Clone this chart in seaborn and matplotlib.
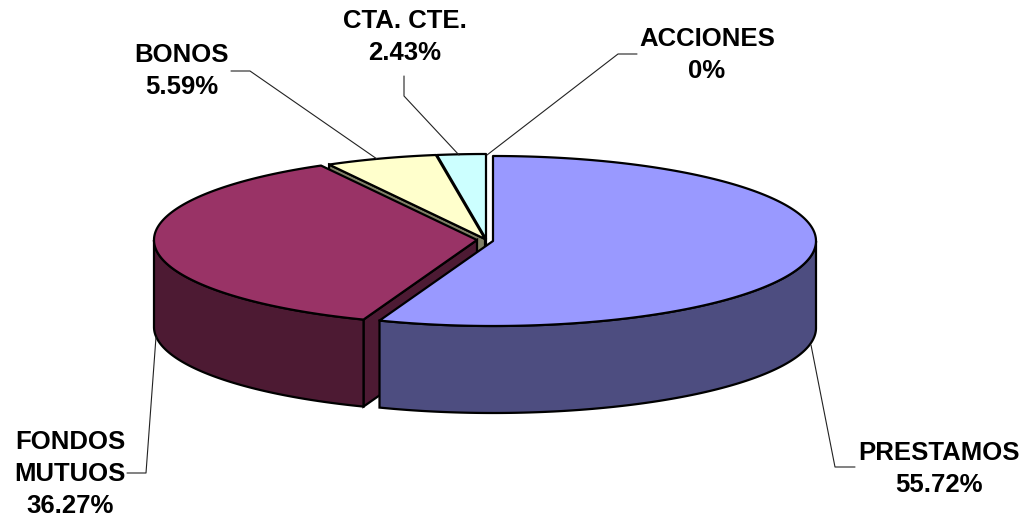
import numpy as np
import matplotlib
matplotlib.use("Agg")
import matplotlib.pyplot as plt
from matplotlib.patches import Polygon
import seaborn as sns

categories = ["PRESTAMOS", "FONDOS\nMUTUOS", "BONOS", "CTA. CTE.", "ACCIONES"]
values = [55.72, 36.27, 5.59, 2.43, 0.0]
value_labels = ["55.72%", "36.27%", "5.59%", "2.43%", "0%"]
top_colors = ["#9999FF", "#993366", "#FFFFCC", "#CCFFFF", "#660066"]
side_colors = ["#4D4D80", "#4D1A33", "#808066", "#668080", "#330033"]

sns.set_theme(style="white")
plt.rcParams["font.family"] = ["Liberation Sans", "DejaVu Sans"]

# layout of the pseudo-3D pie (pixel space)
RX, RY, DEPTH = 323, 85, 87
tips = [(493, 241), (477, 240), (485, 239), (486, 239), (486, 239)]
label_pos = [(939, 469), (70, 474), (182, 71), (405, 37), (707, 55)]
leaders = [
    [(811, 345), (835, 467), (855, 467)],
    [(156, 337), (146, 473), (127, 473)],
    [(231, 71), (250, 71), (377, 159)],
    [(404, 76), (404, 96), (459, 155)],
    [(487, 155), (618, 54), (637, 54)],
]

fig = plt.figure(figsize=(10.28, 5.23), dpi=100)
ax = fig.add_axes([0, 0, 1, 1])
ax.set_xlim(0, 1028)
ax.set_ylim(523, 0)
ax.axis("off")

LW = 1.6
edges = np.cumsum([0] + values) / sum(values) * 2 * np.pi


def rim(tip, t):
    return np.column_stack([tip[0] + RX * np.sin(t), tip[1] - RY * np.cos(t)])


# draw back to front: small back slices first, Prestamos last
for i in [4, 3, 2, 1, 0]:
    if values[i] == 0:
        continue
    t0, t1 = edges[i], edges[i + 1]
    tip = tips[i]
    t = np.linspace(t0, t1, 200)
    arc = rim(tip, t)
    # cut wall at the leading edge of left-hand slices
    if np.sin(t0) < 0:
        a = rim(tip, np.array([t0]))[0]
        ax.add_patch(Polygon([tip, a, (a[0], a[1] + DEPTH), (tip[0], tip[1] + DEPTH)],
                             closed=True, fc=side_colors[i], ec="black", lw=LW, zorder=i * -3 + 20))
    # outer wall on the visible front half
    lo, hi = max(t0, np.pi / 2), min(t1, 3 * np.pi / 2)
    if hi > lo:
        w = rim(tip, np.linspace(lo, hi, 200))
        wall = np.vstack([w, (w + [0, DEPTH])[::-1]])
        ax.add_patch(Polygon(wall, closed=True, fc=side_colors[i], ec="black", lw=LW,
                             zorder=i * -3 + 21))
    ax.add_patch(Polygon(np.vstack([[tip], arc]), closed=True, fc=top_colors[i], ec="black",
                         lw=LW, joinstyle="round", zorder=i * -3 + 22))

for cat, val, (x, y), path in zip(categories, value_labels, label_pos, leaders):
    ax.text(x, y, f"{cat}\n{val}", ha="center", va="center", fontsize=18.5, fontweight="bold",
            color="black", linespacing=1.42, zorder=40)
    p = np.array(path)
    ax.plot(p[:, 0], p[:, 1], color="#222222", lw=0.8, zorder=30)

fig.savefig("out.png", dpi=100, facecolor="white")
